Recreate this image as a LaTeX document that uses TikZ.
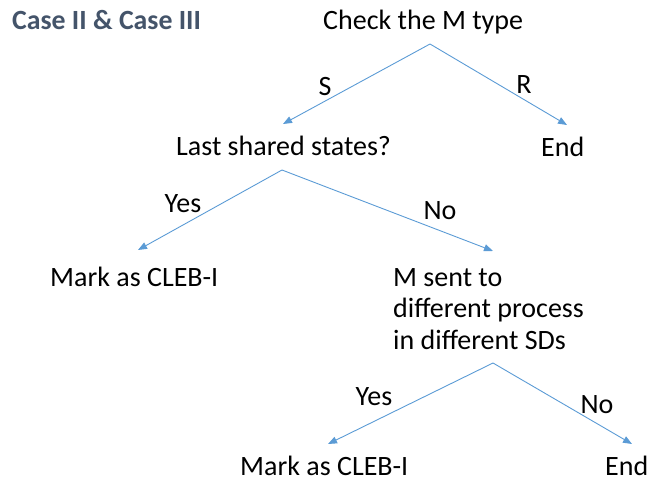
\documentclass[tikz,border=0pt]{standalone}
\usepackage{fontspec}
\setmainfont{Carlito}
\usetikzlibrary{arrows.meta}
\definecolor{linkblue}{HTML}{5B9BD5}
\definecolor{titleslate}{HTML}{44546A}
\begin{document}
\begin{tikzpicture}[x=1pt,y=-1pt,
  txt/.style={inner sep=0pt,anchor=base west,font=\fontsize{28}{31.5}\selectfont,text=black},
  lbl/.style={inner sep=0pt,anchor=base,font=\fontsize{28}{31.5}\selectfont,text=black},
  branch/.style={draw=linkblue,line width=0.9pt,-{Triangle[length=9pt,width=7pt]}}]
  \useasboundingbox (0,0) rectangle (648,481);

  % heading
  \node[txt,font=\fontsize{27.8}{31}\selectfont\bfseries,text=titleslate] (title) at (12,30) {Case II \& Case III};

  % decision texts
  \node[txt] (check) at (323,30) {Check the M type};
  \node[txt] (last) at (176,156) {Last shared states?};
  \node[txt] (end1) at (541,157) {End};
  \node[txt] (mark1) at (50,286) {Mark as CLEB-I};
  \node[txt,align=left,anchor=north west] (sent) at (393,268)
    {M sent to\\different process\\in different SDs};
  \node[txt] (mark2) at (240,475) {Mark as CLEB-I};
  \node[txt] (end2) at (605,475) {End};

  % branch points and arrow ends
  \coordinate (a1) at (430,44);
  \coordinate (t1l) at (283,124);
  \coordinate (t1r) at (567,125);
  \coordinate (a2) at (282,170);
  \coordinate (t2l) at (138,250);
  \coordinate (t2r) at (493,251);
  \coordinate (a3) at (493,363);
  \coordinate (t3l) at (328,444);
  \coordinate (t3r) at (632,444);

  \draw[branch] (a1) -- (t1l);
  \draw[branch] (a1) -- (t1r);
  \draw[branch] (a2) -- (t2l);
  \draw[branch] (a2) -- (t2r);
  \draw[branch] (a3) -- (t3l);
  \draw[branch] (a3) -- (t3r);

  % branch labels
  \node[lbl] (s) at (325,96) {S};
  \node[lbl] (r) at (524,94) {R};
  \node[lbl] (yes1) at (183,213) {Yes};
  \node[lbl] (no1) at (440,220) {No};
  \node[lbl] (yes2) at (374,405) {Yes};
  \node[lbl] (no2) at (597,413) {No};
\end{tikzpicture}
\end{document}
